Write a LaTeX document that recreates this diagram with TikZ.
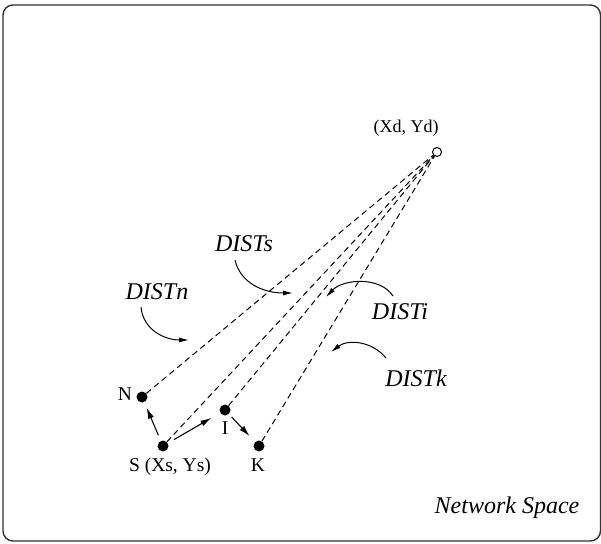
\documentclass[tikz,border=0pt]{standalone}
\usepackage{fontspec}
\setmainfont{Liberation Serif}
\usetikzlibrary{arrows.meta}
\begin{document}
\begin{tikzpicture}[x=1pt,y=-1pt,
  dot/.style={circle,fill=black,inner sep=0pt,minimum size=11pt},
  odot/.style={circle,draw=black,fill=white,line width=1pt,inner sep=0pt,minimum size=9pt},
  lbl/.style={inner sep=0pt,font=\fontsize{19.5}{22}\selectfont},
  ilbl/.style={inner sep=0pt,font=\fontsize{24}{28}\selectfont\itshape},
  dline/.style={dashed,dash pattern=on 6pt off 4pt,line width=1pt},
  arr/.style={line width=1.1pt,-{Latex[length=11pt,width=6pt]}},
  carr/.style={line width=1pt,-{Latex[length=10pt,width=5pt]}}]
\useasboundingbox (0,0) rectangle (601,543);
\draw[line width=1.4pt,black!80,rounded corners=10pt] (3,5) rectangle (600.5,541);
% points
\node[odot] (D) at (437,152) {};
\node[dot] (N) at (142,397) {};
\node[dot] (S) at (163,446) {};
\node[dot] (I) at (225,410) {};
\node[dot] (K) at (259,446) {};
% labels
\node[lbl,font=\fontsize{18}{21}\selectfont] (Dl) at (406,128) {(Xd, Yd)};
\node[lbl] (Nl) at (125,394) {N};
\node[lbl] (Sl) at (170,467) {S (Xs, Ys)};
\node[lbl] (Il) at (225,428) {I};
\node[lbl] (Kl) at (258,465) {K};
\node[ilbl] (DS) at (244,244) {DISTs};
\node[ilbl] (DN) at (157,292) {DISTn};
\node[ilbl] (DI) at (400,312) {DISTi};
\node[ilbl] (DK) at (416,378) {DISTk};
\node[ilbl] (NS) at (507,508) {Network Space};
% dashed lines
\draw[dline] (N) -- (D);
\draw[dline] (S) -- (D);
\draw[dline] (I) -- (D);
\draw[dline] (K) -- (D);
% straight arrows
\draw[arr,shorten <=6pt,shorten >=6pt] (S) -- (N);
\draw[arr,shorten <=7pt,shorten >=10pt] (S) -- (I);
\draw[arr,shorten <=4pt,shorten >=8pt] (I) -- (K);
% curved arrows
\coordinate (s1) at (235,260); \coordinate (s2) at (293,293);
\coordinate (n1) at (141,307); \coordinate (n2) at (189,340);
\coordinate (i1) at (393,296); \coordinate (i2) at (326,297);
\coordinate (k1) at (386,358); \coordinate (k2) at (331,352);
\draw[carr] (s1) .. controls (240,282) and (262,293) .. (s2);
\draw[carr] (n1) .. controls (143,330) and (165,340) .. (n2);
\draw[carr] (i1) .. controls (380,276) and (343,279) .. (i2);
\draw[carr] (k1) .. controls (372,341) and (348,339) .. (k2);
\end{tikzpicture}
\end{document}
